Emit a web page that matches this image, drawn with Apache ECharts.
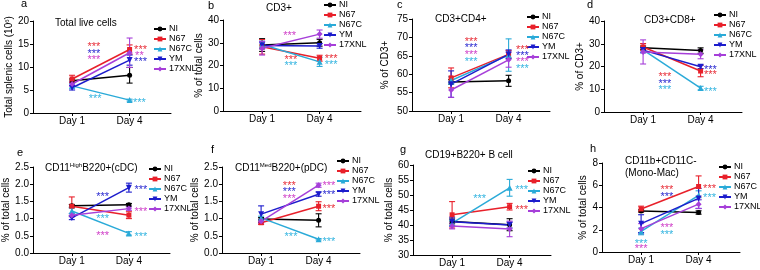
<!DOCTYPE html>
<html><head><meta charset="utf-8">
<script src="https://cdn.jsdelivr.net/npm/echarts@6/dist/echarts.min.js"></script>
<style>html,body{margin:0;padding:0;background:#fff}#c{width:760px;height:270px}</style>
</head><body><div id="c"></div>
<script>
// ---------- data ----------
const groups = ['NI', 'N67', 'N67C', 'YM', '17XNL'];
const dayLabels = ['Day 1', 'Day 4'];
const dayPos = [1, 2];

// means per group (NI, N67, N67C, YM, 17XNL) at Day 1, Day 4 ; errors (SD)
const aMean = [[7.0, 8.2], [7.4, 13.8], [5.9, 2.8], [5.5, 11.5], [6.3, 13.1]];
const aErr  = [[0.4, 1.7], [0.8, 1.0], [0.5, 0.2], [0.5, 1.1], [0.5, 3.2]];
const bMean = [[29.0, 30.0], [28.2, 23.2], [29.2, 21.6], [28.8, 28.6], [27.6, 33.8]];
const bErr  = [[2.8, 1.5], [3.2, 1.3], [1.5, 2.0], [1.5, 1.0], [3.0, 1.8]];
const cMean = [[57.9, 58.2], [59.0, 65.4], [58.3, 65.2], [57.3, 65.4], [55.7, 63.9]];
const cErr  = [[0.6, 1.5], [2.7, 1.0], [1.0, 4.4], [3.6, 1.2], [2.0, 2.0]];
const dMean = [[28.2, 27.0], [28.6, 18.0], [27.3, 10.5], [27.2, 19.9], [26.4, 25.4]];
const dErr  = [[0.8, 1.2], [1.5, 2.5], [1.0, 0.8], [1.2, 0.8], [5.3, 2.0]];
const eMean = [[1.37, 1.40], [1.36, 1.10], [1.22, 0.57], [1.02, 1.90], [1.10, 1.29]];
const eErr  = [[0.04, 0.04], [0.27, 0.10], [0.08, 0.05], [0.05, 0.13], [0.05, 0.05]];
const fMean = [[0.99, 0.95], [0.88, 1.36], [1.02, 0.40], [1.13, 1.71], [0.92, 1.97]];
const fErr  = [[0.04, 0.19], [0.05, 0.13], [0.05, 0.02], [0.24, 0.06], [0.06, 0.06]];
const gMean = [[41.2, 40.1], [43.4, 46.1], [40.6, 52.4], [41.1, 40.0], [39.7, 38.7]];
const gErr  = [[0.8, 2.0], [4.4, 1.1], [0.8, 2.8], [1.5, 1.0], [1.0, 2.6]];
const hMean = [[3.69, 3.55], [3.87, 5.89], [1.85, 5.10], [2.55, 4.82], [2.10, 4.30]];
const hErr  = [[0.10, 0.15], [0.25, 0.95], [0.30, 0.40], [0.80, 0.90], [0.45, 0.40]];

// significance marks: [group, x (day axis), y (value axis), text]
const aStars = [['N67',1.38,15.0,'***'],['YM',1.38,13.3,'***'],['17XNL',1.38,12.0,'***'],['N67C',1.40,3.5,'***'],
                ['N67',2.19,14.3,'***'],['17XNL',2.17,13.0,'**'],['YM',2.19,11.7,'***'],['N67C',2.17,2.8,'***']];
const bStars = [['17XNL',1.48,34.1,'***'],['N67',1.5,23.6,'***'],['N67C',1.5,20.7,'***'],
                ['N67',2.2,23.9,'***'],['N67C',2.2,21.2,'***']];
const cStars = [['N67',1.35,69.5,'***'],['YM',1.35,67.7,'***'],['17XNL',1.35,66.0,'***'],['N67C',1.35,64.0,'***'],
                ['N67',2.24,67.2,'***'],['YM',2.24,65.7,'***'],['17XNL',2.24,63.9,'***'],['N67C',2.24,62.0,'***']];
const dStars = [['N67',1.38,16.4,'***'],['YM',1.38,13.5,'***'],['N67C',1.38,10.6,'***'],
                ['YM',2.17,19.6,'***'],['N67',2.17,17.4,'***'],['N67C',2.17,10.1,'***']];
const eStars = [['YM',1.54,1.70,'***'],['N67C',1.54,1.05,'***'],['17XNL',1.54,0.58,'***'],
                ['YM',2.21,1.91,'***'],['17XNL',2.21,1.26,'***'],['N67C',2.21,0.55,'***']];
const fStars = [['N67',1.49,2.03,'***'],['YM',1.49,1.84,'***'],['17XNL',1.49,1.65,'***'],['N67C',1.52,0.53,'***'],
                ['17XNL',2.18,2.03,'***'],['YM',2.18,1.75,'***'],['N67',2.18,1.34,'***'],['N67C',2.18,0.39,'***']];
const gStars = [['N67C',1.48,49.4,'***'],['N67C',2.21,52.4,'***'],['N67',2.21,45.9,'***']];
const hStars = [['N67',1.45,5.80,'***'],['YM',1.45,5.2,'***'],['17XNL',1.45,2.42,'***'],['N67C',1.45,1.75,'***'],
                ['N67C',1.0,0.97,'***'],['17XNL',1.0,0.51,'***'],['N67',2.19,5.89,'***'],['N67C',2.19,5.05,'***']];

const letters = ['a','b','c','d','e','f','g','h'];
const titles = ['Total live cells','CD3+','CD3+CD4+','CD3+CD8+','CD11{s|High}B220+(cDC)','CD11{s|Med}B220+(pDC)','CD19+B220+ B cell','CD11b+CD11C-\n(Mono-Mac)'];
const yNames = ['Total splenic cells (10{s|6})','% of total cells','% of CD3+','% of CD3+','% of total cells','% of total cells','% of total cells','% of total cells'];
const yMins = [0, 0, 50, 0, 0, 0, 30, 0];
const yMaxs = [20, 40, 75, 40, 2.5, 2.5, 60, 8];
const yInts = [5, 10, 5, 10, 0.5, 0.5, 5, 2];
const yDecimals = [0, 0, 0, 0, 1, 1, 0, 0];

// ---------- styles / layout ----------
const FONT = 'Arial, "Liberation Sans", sans-serif';
const lineColors = ['#000000', '#e8202a', '#2aaad8', '#1c1ccc', '#a63fd9'];
const starColors = ['#000000', '#e8303a', '#35b5e0', '#2a2ad0', '#d040c8'];
const symbols = ['circle', 'rect', 'triangle', 'path://M0,0 L10,0 L5,9 Z', 'diamond'];
const symSizes = [5, 5, 6, 6, 6];
const layout = [
  {l:33, t:21, h:92, ng:18, lg:[153,24], tt:[55,23], lt:[21,4]},
  {l:223, t:20, h:91, ng:19, lg:[323,0], tt:[266,8], lt:[208,6]},
  {l:412, t:19, h:92, ng:22, lg:[526,12], tt:[435,19], lt:[397,5]},
  {l:604, t:21, h:91, ng:11, lg:[713,10], tt:[644,20], lt:[587,5]},
  {l:32, t:167, h:86, ng:22, lg:[148,164], tt:[45,168], lt:[17,153]},
  {l:222, t:167, h:86, ng:20, lg:[336,156], tt:[235,168], lt:[211,150]},
  {l:413, t:165, h:90, ng:19, lg:[527,166], tt:[425,155], lt:[400,150]},
  {l:602, t:163, h:89, ng:10, lg:[718,162], tt:[625,167], lt:[590,149]}
];
const X_MIN = 0.32, X_MAX = 2.72, GRID_W = 138;

const means = [aMean, bMean, cMean, dMean, eMean, fMean, gMean, hMean];
const errs = [aErr, bErr, cErr, dErr, eErr, fErr, gErr, hErr];
const stars = [aStars, bStars, cStars, dStars, eStars, fStars, gStars, hStars];

const grid = [], xAxis = [], yAxis = [], series = [], legend = [], graphic = [];

layout.forEach((L, p) => {
  grid.push({left: L.l, top: L.t, width: GRID_W, height: L.h, containLabel: false});
  xAxis.push({
    type: 'value', gridIndex: p, min: X_MIN, max: X_MAX,
    axisLine: {show: true, lineStyle: {color: '#000', width: 1}},
    axisTick: {show: true, customValues: dayPos, length: 3, lineStyle: {color: '#000'}},
    axisLabel: {show: true, customValues: dayPos, margin: 3, color: '#000', fontSize: 10, fontFamily: FONT,
      formatter: v => dayLabels[dayPos.indexOf(v)] || ''},
    splitLine: {show: false}
  });
  yAxis.push({
    type: 'value', gridIndex: p, min: yMins[p], max: yMaxs[p], interval: yInts[p],
    name: yNames[p], nameLocation: 'middle', nameGap: L.ng, nameRotate: 90,
    nameTextStyle: {color: '#000', fontSize: 10, fontFamily: FONT,
      rich: {s: {fontSize: 6, fontFamily: FONT, color: '#000', verticalAlign: 'top', padding: [0, 0, 4, 0]}}},
    axisLine: {show: true, lineStyle: {color: '#000', width: 1}},
    axisTick: {show: true, length: 3, lineStyle: {color: '#000'}},
    axisLabel: {margin: 4, color: '#000', fontSize: 10, fontFamily: FONT,
      formatter: v => v.toFixed(yDecimals[p])},
    splitLine: {show: false}
  });
  // error bars
  const errData = [];
  groups.forEach((g, gi) => {
    dayPos.forEach((d, di) => {
      const m = means[p][gi][di], e = errs[p][gi][di];
      errData.push([d, m - e, m + e, gi]);
    });
  });
  series.push({
    type: 'custom', name: 'err' + p, xAxisIndex: p, yAxisIndex: p, z: 2, silent: true,
    data: errData, encode: {x: 0, y: [1, 2]},
    renderItem: (params, api) => {
      const x = api.value(0), lo = api.value(1), hi = api.value(2), gi = api.value(3);
      const p1 = api.coord([x, lo]), p2 = api.coord([x, hi]);
      const c = lineColors[gi], w = 3, st = {stroke: c, lineWidth: 1.1};
      return {type: 'group', children: [
        {type: 'line', shape: {x1: p1[0], y1: p1[1], x2: p2[0], y2: p2[1]}, style: st},
        {type: 'line', shape: {x1: p1[0]-w, y1: p1[1], x2: p1[0]+w, y2: p1[1]}, style: st},
        {type: 'line', shape: {x1: p2[0]-w, y1: p2[1], x2: p2[0]+w, y2: p2[1]}, style: st}
      ]};
    }
  });
  groups.forEach((g, gi) => {
    series.push({
      type: 'line', name: g, xAxisIndex: p, yAxisIndex: p, z: 3,
      data: dayPos.map((d, di) => [d, means[p][gi][di]]),
      symbol: symbols[gi], symbolSize: symSizes[gi], showSymbol: true,
      lineStyle: {color: lineColors[gi], width: 1.5},
      itemStyle: {color: lineColors[gi]}
    });
  });
  const st = stars[p];
  series.push({
    type: 'custom', name: 'stars' + p, xAxisIndex: p, yAxisIndex: p, z: 4, silent: true,
    data: st.map(s => [s[1], s[2]]), encode: {x: 0, y: 1},
    renderItem: (params, api) => {
      const s = st[params.dataIndex];
      const pt = api.coord([api.value(0), api.value(1)]);
      return {type: 'text', x: pt[0], y: pt[1] + 2.5, style: {
        text: s[3], fill: starColors[groups.indexOf(s[0])], font: '11px ' + FONT,
        textAlign: 'center', textVerticalAlign: 'middle'}};
    }
  });
  legend.push({
    data: groups.slice(), orient: 'vertical', left: L.lg[0], top: L.lg[1],
    itemWidth: 12, itemHeight: 6, itemGap: 0, padding: 0, selectedMode: false,
    textStyle: {color: '#000', fontSize: 9, fontFamily: FONT, lineHeight: 10, padding: [0, 0, 0, -2]}
  });
  graphic.push({type: 'text', x: L.lt[0], y: L.lt[1], style: {
    text: letters[p], font: '11px ' + FONT, fill: '#000', textVerticalAlign: 'middle'}});
  graphic.push({type: 'text', x: L.tt[0], y: L.tt[1], style: {
    text: titles[p], fill: '#000', fontSize: 10, fontFamily: FONT, lineHeight: 11.5,
    textVerticalAlign: 'middle',
    rich: {s: {fontSize: 6, fontFamily: FONT, verticalAlign: 'top', lineHeight: 11.5, padding: [0,0,4,0]}}}});
});

const chart = echarts.init(document.getElementById('c'), null, {renderer: 'canvas'});
chart.setOption({animation: false, backgroundColor: '#fff', grid, xAxis, yAxis, series, legend, graphic,
  textStyle: {fontFamily: FONT}});
</script></body></html>
